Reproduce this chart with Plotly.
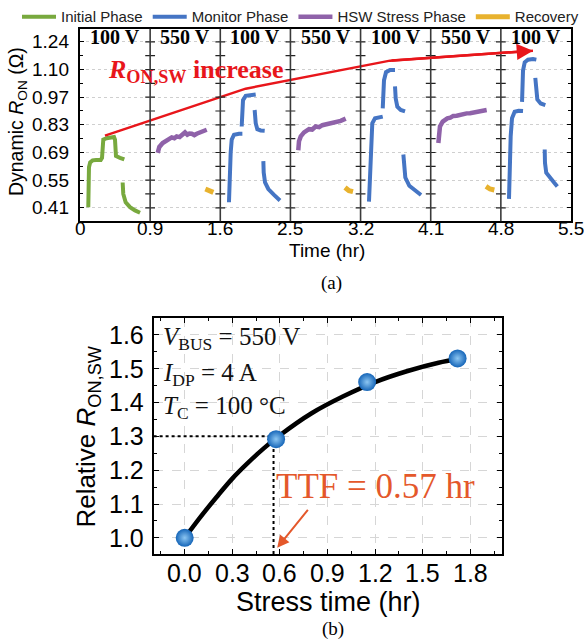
import plotly.graph_objects as go

W, H = 584, 643

# ---------------- Panel (a) data (x = panel position, 7 equal-width panels) ----------------
time_labels = ["0", "0.9", "1.6", "2.5", "3.2", "4.1", "4.8", "5.5"]
panel_voltage = ["100 V", "550 V", "100 V", "550 V", "100 V", "550 V", "100 V"]
ron_ticks = [0.41, 0.55, 0.69, 0.83, 0.97, 1.11, 1.25]
ron_ticktext = ["0.41", "0.55", "0.69", "0.83", "0.97", "1.10", "1.24"]

initial_x = [0.118, 0.118, 0.120, 0.128, 0.145, 0.180, 0.230, 0.295, 0.314, 0.318, 0.332, 0.380, 0.452,
             0.485, 0.499, 0.503, 0.513, 0.570, 0.632, None,
             0.608, 0.617, 0.651, 0.713, 0.784, 0.856]
initial_y = [0.413, 0.490, 0.560, 0.615, 0.640, 0.650, 0.652, 0.652, 0.663, 0.722, 0.755, 0.762, 0.767,
             0.768, 0.755, 0.705, 0.672, 0.663, 0.655, None,
             0.538, 0.480, 0.438, 0.413, 0.3965, 0.385]

monitor_x = [2.124, 2.134, 2.148, 2.163, 2.196, 2.267, 2.315, None,
             2.305, 2.314, 2.324, 2.362, 2.434, 2.505, None,
             2.490, 2.505, 2.528, 2.576, 2.633, None,
             2.614, 2.619, 2.638, 2.685, 2.766, 2.851, None,
             4.120, 4.135, 4.149, 4.167, 4.206, 4.277, 4.316, None,
             4.316, 4.324, 4.334, 4.363, 4.420, 4.491, None,
             4.491, 4.501, 4.524, 4.572, 4.634, None,
             4.610, 4.619, 4.638, 4.695, 4.776, 4.862, None,
             6.116, 6.126, 6.140, 6.159, 6.197, 6.254, 6.316, None,
             6.302, 6.306, 6.316, 6.340, 6.387, 6.458, 6.506, None,
             6.491, 6.501, 6.520, 6.568, 6.634, None,
             6.625, 6.629, 6.647, 6.696, 6.758, 6.805]
monitor_y = [0.438, 0.5715, 0.688, 0.755, 0.780, 0.785, 0.785, None,
             0.8215, 0.905, 0.955, 0.9765, 0.9815, 0.983, None,
             0.905, 0.838, 0.808, 0.8015, 0.800, None,
             0.6465, 0.588, 0.538, 0.505, 0.475, 0.4465, None,
             0.4415, 0.5715, 0.7215, 0.838, 0.863, 0.868, 0.8715, None,
             0.913, 0.988, 1.055, 1.0965, 1.108, 1.108, None,
             1.025, 0.963, 0.9215, 0.905, 0.898, None,
             0.680, 0.6215, 0.563, 0.5215, 0.4965, 0.475, None,
             0.455, 0.605, 0.7715, 0.863, 0.8965, 0.9015, 0.900, None,
             0.9465, 1.0215, 1.105, 1.1465, 1.160, 1.163, 1.160, None,
             1.068, 1.005, 0.958, 0.938, 0.930, None,
             0.705, 0.638, 0.588, 0.563, 0.538, 0.518]

stress_x = [1.108, 1.131, 1.179, 1.245, 1.307, 1.345, 1.378, 1.420, 1.450, 1.497, 1.530, 1.560, 1.593,
            1.630, 1.664, 1.700, 1.736, 1.807, None,
            3.112, 3.122, 3.147, 3.194, 3.265, 3.310, 3.360, 3.410, 3.455, 3.500, 3.550, 3.600, 3.646,
            3.717, 3.788, None,
            5.109, 5.114, 5.132, 5.171, 5.237, 5.280, 5.322, 5.370, 5.418, 5.460, 5.513, 5.560, 5.607,
            5.703, 5.798]
stress_y = [0.688, 0.718, 0.738, 0.755, 0.7665, 0.762, 0.7715, 0.768, 0.780, 0.7915, 0.780, 0.786, 0.785,
            0.778, 0.785, 0.790, 0.795, 0.805, None,
            0.7015, 0.7465, 0.7715, 0.7915, 0.808, 0.806, 0.8215, 0.818, 0.828, 0.832, 0.835, 0.838, 0.843,
            0.850, 0.8615, None,
            0.738, 0.788, 0.8215, 0.8465, 0.863, 0.866, 0.875, 0.876, 0.8815, 0.884, 0.888, 0.889, 0.893,
            0.898, 0.905]

recovery_x = [1.787, 1.829, 1.901, None, 3.778, 3.835, 3.892, None, 5.788, 5.845, 5.907]
recovery_y = [0.505, 0.4965, 0.488, None, 0.513, 0.4965, 0.4915, None, 0.518, 0.505, 0.500]

trend_x = [0.356, 2.362, 4.420, 6.458]
trend_y = [0.775, 1.013, 1.155, 1.205]

# ---------------- Panel (b) data ----------------
stress_time = [0.0, 0.576, 1.15, 1.72]
rel_ron = [1.0, 1.2915, 1.46, 1.53]
fit_time = [0.0, 0.1, 0.2, 0.3, 0.4, 0.5, 0.6, 0.8, 1.0, 1.2, 1.4, 1.6, 1.72]
fit_ron = [1.0, 1.062, 1.12, 1.175, 1.222, 1.265, 1.303, 1.368, 1.418, 1.46, 1.492, 1.517, 1.528]
ttf_time = 0.56
ttf_level = 1.3
b_xticks = [0.0, 0.3, 0.6, 0.9, 1.2, 1.5, 1.8]
b_yticks = [1.0, 1.1, 1.2, 1.3, 1.4, 1.5, 1.6]

SANS = "Liberation Sans, Arial, sans-serif"
SERIF = "Liberation Serif, Times New Roman, serif"
GREEN, BLUE, PURPLE, YELLOW, RED = "#78a93e", "#4575c4", "#8f62a9", "#e8b22e", "#e8161b"
ORANGE = "#e4582b"


def fx(p):
    return p / W


def fy(p):
    return 1 - p / H


def note(**kw):
    kw.setdefault("showarrow", False)
    kw.setdefault("xanchor", "center")
    kw.setdefault("yanchor", "middle")
    fig.add_annotation(**kw)


fig = go.Figure()

fig.add_trace(go.Scatter(x=initial_x, y=initial_y, mode="lines", name="Initial Phase",
                         line=dict(color=GREEN, width=4)))
fig.add_trace(go.Scatter(x=monitor_x, y=monitor_y, mode="lines", name="Monitor Phase",
                         line=dict(color=BLUE, width=4)))
fig.add_trace(go.Scatter(x=stress_x, y=stress_y, mode="lines", name="HSW Stress Phase",
                         line=dict(color=PURPLE, width=4.5)))
fig.add_trace(go.Scatter(x=recovery_x, y=recovery_y, mode="lines", name="Recovery",
                         line=dict(color=YELLOW, width=5)))

# trend arrow: full polyline, arrowhead drawn over the last segment
fig.add_trace(go.Scatter(x=trend_x, y=trend_y, mode="lines", showlegend=False,
                         line=dict(color=RED, width=2.5), hoverinfo="skip"))
fig.add_annotation(x=trend_x[3], y=trend_y[3], ax=trend_x[2], ay=trend_y[2], xref="x", yref="y",
                   axref="x", ayref="y", text="", showarrow=True, arrowhead=2, arrowsize=1.3,
                   arrowwidth=2.5, arrowcolor=RED)

# divider tick marks on panel boundaries
minor_vals = [0.34 + 0.07 * k for k in range(15)]
div_x, div_y = [], []
for b in range(1, 7):
    for v in minor_vals:
        div_x.append(b)
        div_y.append(v)
fig.add_trace(go.Scatter(x=div_x, y=div_y, mode="markers", showlegend=False, hoverinfo="skip",
                         marker=dict(symbol="line-ew", size=7, line=dict(color="#222", width=1.2))))

for b in range(1, 7):
    fig.add_shape(type="line", xref="x", yref="y domain", x0=b, x1=b, y0=0, y1=1,
                  line=dict(color="#3a3a3a", width=1.6))

for i, lab in enumerate(panel_voltage):
    note(x=i + 0.5, y=1.276, xref="x", yref="y", text="<b>%s</b>" % lab,
         font=dict(family=SERIF, size=20, color="black"))

note(x=0.37, y=1.10, xref="x", yref="y", xanchor="left",
     text="<b><i>R</i><sub>ON,SW</sub> increase</b>", font=dict(family=SERIF, size=26, color=RED))

# tick labels of panel (a)
for i, lab in enumerate(time_labels):
    note(x=i, y=fy(223), xref="x", yref="paper", text=lab,
         font=dict(family=SANS, size=19, color="black"))
for v, lab in zip(ron_ticks, ron_ticktext):
    note(x=fx(71), y=v, xref="paper", yref="y", xanchor="right", text=lab,
         font=dict(family=SANS, size=19, color="black"))

# ---------------- Panel (b) ----------------
fig.add_trace(go.Scatter(x=[-0.196, ttf_time], y=[ttf_level, ttf_level], xaxis="x2", yaxis="y2",
                         mode="lines", showlegend=False, line=dict(color="black", width=2, dash="dot")))
fig.add_trace(go.Scatter(x=[ttf_time, ttf_time], y=[0.952, ttf_level], xaxis="x2", yaxis="y2",
                         mode="lines", showlegend=False, line=dict(color="black", width=2, dash="dot")))
fig.add_trace(go.Scatter(x=fit_time, y=fit_ron, xaxis="x2", yaxis="y2", mode="lines",
                         showlegend=False, line=dict(color="black", width=4.5, shape="spline")))
fig.add_trace(go.Scatter(x=stress_time, y=rel_ron, xaxis="x2", yaxis="y2", mode="markers",
                         showlegend=False,
                         marker=dict(size=18, color="#1565b8",
                                     gradient=dict(type="radial", color="#8cc6f2"),
                                     line=dict(width=0))))

for txt, yv in [("<i>V</i><sub>BUS</sub> = 550 V", 1.588),
                ("<i>I</i><sub>DP</sub> = 4 A", 1.481),
                ("<i>T</i><sub>C</sub> = 100 °C", 1.384)]:
    note(x=-0.15, y=yv, xref="x2", yref="y2", xanchor="left", text=txt,
         font=dict(family=SERIF, size=25, color="#111"))

note(x=1.20, y=1.151, xref="x2", yref="y2", text="TTF = 0.57 hr",
     font=dict(family=SERIF, size=35, color=ORANGE))
fig.add_annotation(x=0.583, y=0.971, ax=0.784, ay=1.087, xref="x2", yref="y2", axref="x2", ayref="y2",
                   text="", showarrow=True, arrowhead=2, arrowsize=1.2, arrowwidth=2,
                   arrowcolor=ORANGE)

for v in b_xticks:
    note(x=v, y=fy(572), xref="x2", yref="paper", text="%.1f" % v,
         font=dict(family=SANS, size=25, color="black"))
for v in b_yticks:
    note(x=fx(146), y=v, xref="paper", yref="y2", xanchor="right", text="%.1f" % v,
         font=dict(family=SANS, size=25, color="black"))

# axis titles and captions
note(x=fx(17.5), y=fy(115), xref="paper", yref="paper", textangle=-90,
     text="Dynamic <i>R</i><sub>ON</sub> (Ω)", font=dict(family=SANS, size=19.5, color="black"))
note(x=fx(327), y=fy(246), xref="paper", yref="paper", text="Time (hr)",
     font=dict(family=SANS, size=19, color="black"))
note(x=fx(331), y=fy(278), xref="paper", yref="paper", text="(a)",
     font=dict(family=SERIF, size=19, color="black"))
note(x=fx(88), y=fy(434), xref="paper", yref="paper", textangle=-90,
     text="Relative <i>R</i><sub>ON,SW</sub>", font=dict(family=SANS, size=26, color="black"))
note(x=fx(328), y=fy(601), xref="paper", yref="paper", text="Stress time (hr)",
     font=dict(family=SANS, size=27, color="black"))
note(x=fx(333), y=fy(629), xref="paper", yref="paper", text="(b)",
     font=dict(family=SERIF, size=19, color="black"))

fig.update_layout(
    width=W, height=H, margin=dict(l=0, r=0, t=0, b=0),
    paper_bgcolor="white", plot_bgcolor="white",
    legend=dict(orientation="h", x=fx(26), y=1.012, xanchor="left", yanchor="top",
                font=dict(family=SANS, size=15, color="#222"), bgcolor="rgba(0,0,0,0)",
                itemwidth=34, tracegroupgap=0),
    xaxis=dict(domain=[fx(80), fx(571)], range=[0, 7], showticklabels=False,
               showgrid=False, zeroline=False, showline=True, mirror=True, linecolor="black",
               linewidth=1.5, ticks="", anchor="y", fixedrange=True),
    yaxis=dict(domain=[fy(216), fy(21)], range=[0.3415, 1.3165], tickvals=ron_ticks,
               showticklabels=False, showgrid=True, gridcolor="#cfcfcf", griddash="dot", gridwidth=1,
               zeroline=False, showline=True, mirror="allticks", linecolor="black", linewidth=1.5,
               ticks="inside", ticklen=4, tickcolor="black",
               minor=dict(tickvals=[v + 0.07 for v in ron_ticks[:-1]] + [0.34], ticks="inside",
                          ticklen=3, tickcolor="black", showgrid=False),
               anchor="x"),
    xaxis2=dict(domain=[fx(153.6), fx(502)], range=[-0.196, 2.0], tickvals=b_xticks,
                showticklabels=False, showgrid=True, gridcolor="#d6d6d6",
                griddash="dash", zeroline=False, showline=True, mirror="allticks", linecolor="black",
                linewidth=2, ticks="inside", ticklen=5, tickcolor="black",
                minor=dict(dtick=0.15, tick0=0, ticks="inside", ticklen=3, tickcolor="black",
                           showgrid=False),
                anchor="y2"),
    yaxis2=dict(domain=[fy(553), fy(314)], range=[0.952, 1.649], tickvals=b_yticks,
                showticklabels=False, showgrid=True, gridcolor="#d6d6d6", griddash="dash",
                zeroline=False, showline=True, mirror="allticks", linecolor="black", linewidth=2,
                ticks="inside", ticklen=5, tickcolor="black",
                minor=dict(dtick=0.05, tick0=1.0, ticks="inside", ticklen=3, tickcolor="black",
                           showgrid=False),
                anchor="x2"),
)

fig.write_html("out.html")
